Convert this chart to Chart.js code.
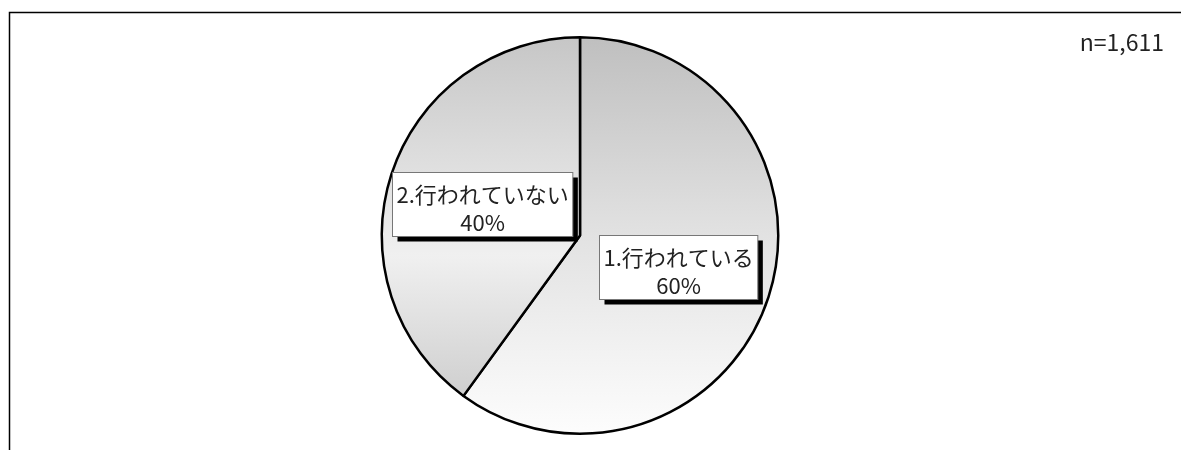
<!DOCTYPE html>
<html lang="ja">
<head>
<meta charset="utf-8">
<title>行われているか</title>
<script src="https://cdn.jsdelivr.net/npm/chart.js@4.4.1/dist/chart.umd.min.js"></script>
<style>
    body { margin: 0; background: #fff; }
    #wrap { position: relative; width: 1181px; height: 450px; }
</style>
</head>
<body>
<div id="wrap"><canvas id="myChart"></canvas></div>
<script>
// datos del gráfico
const categorias = ['1.行われている', '2.行われていない'];
const porcentajes = [60, 40];
const totalN = 'n=1,611';

const fuente = '"Noto Sans CJK JP", "Noto Sans", sans-serif';

// degradado vertical para cada porción
const rellenos = [
    [[0, '#bfbfbf'], [0.5, '#e2e2e2'], [1, '#fdfdfd']],
    [[0, '#c6c6c6'], [0.55, '#f0f0f0'], [0.9, '#cfcfcf'], [1, '#cccccc']]
];

const marco = {
    id: 'marco',
    beforeDraw(chart) {
        const ctx = chart.ctx;
        ctx.save();
        ctx.strokeStyle = '#000';
        ctx.lineWidth = 1.5;
        ctx.beginPath();
        ctx.moveTo(9.5, 450);
        ctx.lineTo(9.5, 12.5);
        ctx.lineTo(1181, 12.5);
        ctx.stroke();
        // n=
        ctx.fillStyle = '#222';
        ctx.font = '23px ' + fuente;
        ctx.textAlign = 'right';
        ctx.textBaseline = 'middle';
        ctx.fillText(totalN, 1164, 42);
        ctx.restore();
    }
};

const etiquetas = {
    id: 'etiquetas',
    afterDatasetsDraw(chart) {
        const ctx = chart.ctx;
        const meta = chart.getDatasetMeta(0);
        ctx.save();
        ctx.font = '22px ' + fuente;
        ctx.textAlign = 'center';
        ctx.textBaseline = 'middle';
        meta.data.forEach((arc, i) => {
            const p = arc.getProps(['x', 'y', 'startAngle', 'endAngle', 'outerRadius'], true);
            const medio = (p.startAngle + p.endAngle) / 2;
            const cx = p.x + Math.cos(medio) * p.outerRadius * 0.52;
            const cy = p.y + Math.sin(medio) * p.outerRadius * 0.52;
            const linea1 = categorias[i];
            const linea2 = porcentajes[i] + '%';
            const w = Math.max(ctx.measureText(linea1).width, ctx.measureText(linea2).width) + 8;
            const h = 64;
            const x0 = Math.round(cx - w / 2) + 0.5;
            const y0 = Math.round(cy - h / 2) + 0.5;
            // sombra
            ctx.fillStyle = '#000';
            ctx.fillRect(x0 + 5, y0 + 5, w, h);
            ctx.fillStyle = '#fff';
            ctx.fillRect(x0, y0, w, h);
            ctx.strokeStyle = '#777';
            ctx.lineWidth = 1;
            ctx.strokeRect(x0, y0, w, h);
            ctx.fillStyle = '#222';
            ctx.fillText(linea1, x0 + w / 2, y0 + 22);
            ctx.fillText(linea2, x0 + w / 2, y0 + 50);
        });
        ctx.restore();
    }
};

const ctx = document.getElementById('myChart').getContext('2d');
new Chart(ctx, {
    type: 'pie',
    data: {
        labels: categorias,
        datasets: [{
            data: porcentajes,
            backgroundColor: (c) => {
                const area = c.chart.chartArea;
                if (!area) return '#ddd';
                const g = c.chart.ctx.createLinearGradient(0, area.top, 0, area.bottom);
                rellenos[c.dataIndex].forEach(s => g.addColorStop(s[0], s[1]));
                return g;
            },
            borderColor: '#000',
            borderWidth: 2.5,
            borderAlign: 'center'
        }]
    },
    options: {
        responsive: true,
        maintainAspectRatio: false,
        animation: false,
        layout: { padding: { top: 36, bottom: 15, left: 0, right: 21 } },
        plugins: {
            legend: { display: false },
            tooltip: { enabled: false }
        }
    },
    plugins: [marco, etiquetas]
});
</script>
</body>
</html>
